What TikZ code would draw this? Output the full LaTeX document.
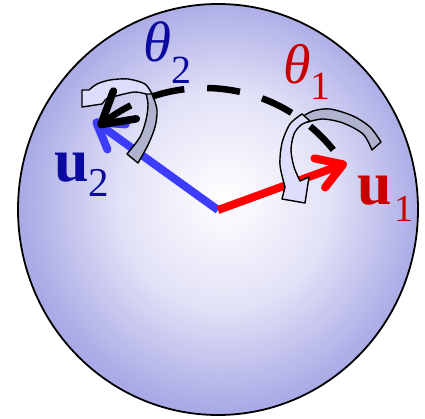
\documentclass[tikz,border=0pt]{standalone}
\usepackage{fontspec}
\setmainfont{Liberation Serif}
\usetikzlibrary{arrows.meta}
\definecolor{lav}{RGB}{170,170,230}
\definecolor{lavmid}{RGB}{226,226,247}
\definecolor{ribgrey}{RGB}{176,179,206}
\definecolor{ribfront}{RGB}{222,222,252}
\definecolor{vblue}{RGB}{60,60,250}
\definecolor{vred}{RGB}{255,0,0}
\definecolor{lblue}{RGB}{10,10,160}
\definecolor{lred}{RGB}{200,0,0}
\pgfdeclareradialshading{sph}{\pgfpoint{1bp}{1.5bp}}{color(0bp)=(white); color(13bp)=(lavmid); color(25bp)=(lav); color(50bp)=(lav)}
\tikzset{
  vec/.style={line width=8pt, line cap=butt, -{Straight Barb[length=25pt,width=31pt,round]}},
  rib/.style={draw=black, line width=1.4pt, line join=round},
  lbl/.style={anchor=base west, inner sep=0pt},
}
\begin{document}
\begin{tikzpicture}[x=1pt,y=-1pt]
\useasboundingbox (0,0) rectangle (425,419);
\coordinate (C) at (218,209.5);
\coordinate (O) at (218,210);
\coordinate (U1) at (347,163);
\coordinate (U2) at (93,120);
% sphere
\shade[shading=sph] (C) ellipse [x radius=200pt, y radius=205.5pt];
\draw[line width=1.8pt] (C) ellipse [x radius=200pt, y radius=205.5pt];
% vectors
\draw[vec, vblue] (O) -- (U2);
\draw[vec, vred] (O) -- (U1);
% theta2 ribbon
\draw[rib, fill=ribgrey] (127,154) -- (138,163) -- plot[smooth] coordinates {(138,163) (148,145) (155,127) (157,110) (152,93)} -- plot[smooth] coordinates {(146,93) (148,105) (146,120) (140,137) (127,154)} -- cycle;
\draw[rib, fill=ribfront] plot[smooth] coordinates {(152,94) (145,84) (128,79) (110,80) (97,84) (89,90)} -- (82,90) -- (82,107) -- (102,104) -- plot[smooth] coordinates {(106,99) (120,95) (135,92) (146,94)} -- cycle;
% theta1 ribbon
\draw[rib, fill=ribgrey] plot[smooth] coordinates {(300,118) (313,111) (330,109) (353,116) (370,127) (381,142)} -- (372,150) -- plot[smooth] coordinates {(372,150) (363,134) (343,123) (323,119) (308,122)} -- cycle;
\draw[rib, fill=ribfront] plot[smooth] coordinates {(302,114) (290,124) (282,143) (280,165) (285,187)} -- (282,199) -- (305,203) -- (309,177) -- plot[smooth] coordinates {(300,181) (294,167) (291,150) (294,134) (301,125) (310,121)} -- cycle;
% dashed rotation arc
\draw[line width=6.5pt, dash pattern=on 33pt off 23pt, -{Straight Barb[length=31pt,width=36pt,round,line width=7.5pt]}] plot[domain=38.7:130.2, samples=60] ({204.5+165*cos(\x)},{253-165*sin(\x)});
% labels
\node[lbl, text=lblue] (t2) at (143,62) {\fontsize{57}{57}\selectfont\itshape θ\raisebox{-22pt}{\fontsize{40}{40}\selectfont\upshape 2}};
\node[lbl, text=lred] (t1) at (283,84) {\fontsize{56}{56}\selectfont\itshape θ\raisebox{-16pt}{\fontsize{40}{40}\selectfont\upshape 1}};
\node[lbl, text=lblue] (u2) at (54,182) {\fontsize{62}{62}\selectfont\bfseries u\raisebox{-15pt}{\fontsize{41}{41}\selectfont\mdseries 2}};
\node[lbl, text=lred] (u1) at (357,205) {\fontsize{62}{62}\selectfont\bfseries u\hspace{3pt}\raisebox{-17pt}{\fontsize{38}{38}\selectfont\mdseries 1}};
\end{tikzpicture}
\end{document}
